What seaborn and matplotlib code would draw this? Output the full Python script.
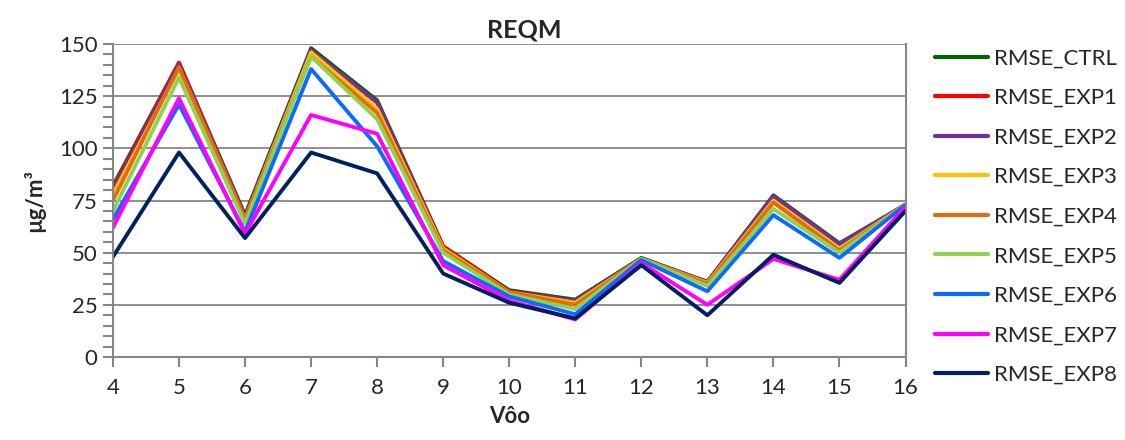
import matplotlib
matplotlib.use("Agg")
import matplotlib.pyplot as plt
import numpy as np
import pandas as pd
import seaborn as sns

# Flights (x axis)
voos = [4, 5, 6, 7, 8, 9, 10, 11, 12, 13, 14, 15, 16]

rmse_ctrl = [82, 141, 68, 148, 123, 53, 32, 27.5, 47.5, 36, 77.5, 54.5, 73]
rmse_exp1 = [81, 141, 67, 147, 122, 53, 31.5, 27, 47, 36, 77, 54, 73]
rmse_exp2 = [80, 140, 67, 147, 122, 52, 31, 27, 47, 36, 77, 54, 73]
rmse_exp3 = [78, 138, 66, 146, 119, 52, 31, 26, 47, 35.5, 75, 52, 73]
rmse_exp4 = [75, 139, 66, 144, 117, 51, 31, 25, 47, 35, 74, 51, 73]
rmse_exp5 = [70, 134, 64, 144, 114, 50, 30, 23, 47, 34, 71, 50, 73]
rmse_exp6 = [66, 121, 60, 138, 101, 46, 29, 20.5, 46.5, 31.5, 68, 47.5, 73]
rmse_exp7 = [62, 124, 59, 116, 107, 44, 27, 18, 45, 25, 47, 37, 72]
rmse_exp8 = [48, 98, 57, 98, 88, 40, 26, 18.5, 44, 20, 49, 35.5, 70]

series_names = ["RMSE_CTRL", "RMSE_EXP1", "RMSE_EXP2", "RMSE_EXP3", "RMSE_EXP4",
                "RMSE_EXP5", "RMSE_EXP6", "RMSE_EXP7", "RMSE_EXP8"]
series_values = [rmse_ctrl, rmse_exp1, rmse_exp2, rmse_exp3, rmse_exp4,
                 rmse_exp5, rmse_exp6, rmse_exp7, rmse_exp8]
colors = ["#006400", "#FF0000", "#7030A0", "#FFC000", "#E36C09",
          "#92D050", "#0A6CFF", "#FF00FF", "#002060"]

# Long-form table for seaborn
df = pd.DataFrame({
    "Vôo": voos * len(series_names),
    "RMSE": [v for vals in series_values for v in vals],
    "serie": [n for n in series_names for _ in voos],
})

sns.set_style("white")
plt.rcParams["font.family"] = ["Lato", "DejaVu Sans"]

fig = plt.figure(figsize=(11.25, 4.4), dpi=100)
ax = fig.add_axes([0.1004, 0.1886, 0.7045, 0.7114])

sns.lineplot(data=df, x="Vôo", y="RMSE", hue="serie", hue_order=series_names,
             palette=colors, linewidth=2.8, ax=ax, legend=False)

ax.set_xlim(4, 16)
ax.set_ylim(0, 150)
ax.set_xticks(voos)
ax.set_yticks(np.arange(0, 151, 25))
ax.set_yticks(np.arange(0, 151, 5), minor=True)
ax.tick_params(axis="both", which="both", direction="out", length=7,
               width=1.5, color="#868686", labelsize=16, pad=4)
ax.tick_params(axis="x", which="major", bottom=True, pad=8)
ax.tick_params(axis="y", which="both", left=True)
ax.grid(axis="y", which="major", color="#868686", linewidth=1.3)
ax.set_axisbelow(True)
for side in ["left", "bottom", "right", "top"]:
    ax.spines[side].set_color("#868686")
    ax.spines[side].set_linewidth(1.5)
ax.spines["top"].set_visible(False)

ax.set_xlabel("Vôo", fontsize=16, fontweight="bold", labelpad=6)
ax.set_ylabel("µg/m³", fontsize=16, fontweight="bold", labelpad=10)
fig.text(0.466, 0.932, "REQM", fontsize=18, fontweight="bold",
         ha="center", va="center")

handles = [plt.Line2D([], [], color=c, linewidth=3) for c in colors]
fig.legend(handles, series_names, loc="upper left",
           bbox_to_anchor=(0.831, 0.89), frameon=False, fontsize=16,
           handlelength=2.4, handletextpad=0.25, labelspacing=0.88,
           borderpad=0, borderaxespad=0)

fig.savefig("out.png", dpi=100)
